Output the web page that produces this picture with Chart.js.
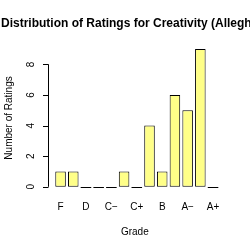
<!DOCTYPE html>
<html>
<head>
<meta charset="utf-8">
<script src="https://cdn.jsdelivr.net/npm/chart.js@4"></script>
<style>
  html, body { margin: 0; padding: 0; background: #fff; }
  #wrap { width: 250px; height: 250px; }
</style>
</head>
<body>
<div id="wrap"><canvas id="myChart" width="250" height="250"></canvas></div>
<script>
const grades = ['F', 'D\u2212', 'D', 'D+', 'C\u2212', 'C', 'C+', 'B\u2212', 'B', 'B+', 'A\u2212', 'A', 'A+'];
const counts = [1, 1, 0, 0, 0, 1, 0, 4, 1, 6, 5, 9, 0];
const yTicks = [0, 2, 4, 6, 8];
const titleText = 'Distribution of Ratings for Creativity (Allegheny College)';
const xTitle = 'Grade';
const yTitle = 'Number of Ratings';

// axes, labels and title drawn R-style on top of the chart
const rAxes = {
  id: 'rAxes',
  afterDatasetsDraw(chart) {
    const ctx = chart.ctx;
    const y = chart.scales.y;
    const area = chart.chartArea;
    const axX = 48.5;
    ctx.save();
    ctx.strokeStyle = '#000';
    ctx.lineWidth = 1;
    ctx.fillStyle = '#000';

    // zero-height bars show as a line on the baseline
    const meta = chart.getDatasetMeta(0);
    meta.data.forEach((bar, i) => {
      if (counts[i] === 0) {
        const half = bar.width / 2;
        ctx.beginPath();
        ctx.moveTo(bar.x - half, Math.round(y.getPixelForValue(0)) + 0.5);
        ctx.lineTo(bar.x + half, Math.round(y.getPixelForValue(0)) + 0.5);
        ctx.stroke();
      }
    });

    // y axis
    ctx.beginPath();
    ctx.moveTo(axX, y.getPixelForValue(yTicks[0]));
    ctx.lineTo(axX, y.getPixelForValue(yTicks[yTicks.length - 1]));
    yTicks.forEach(t => {
      const py = Math.round(y.getPixelForValue(t)) + 0.5;
      ctx.moveTo(43, py);
      ctx.lineTo(axX, py);
    });
    ctx.stroke();

    ctx.font = '10px "Liberation Sans", Arial, sans-serif';
    ctx.textAlign = 'center';
    ctx.textBaseline = 'middle';
    yTicks.forEach(t => {
      ctx.save();
      ctx.translate(31, y.getPixelForValue(t));
      ctx.rotate(-Math.PI / 2);
      ctx.fillText(String(t), 0, 0);
      ctx.restore();
    });

    // x labels, every other grade
    const x = chart.scales.x;
    grades.forEach((g, i) => {
      if (i % 2 === 0) ctx.fillText(g, x.getPixelForValue(i), 207);
    });

    ctx.fillText(xTitle, (area.left + area.right) / 2 - 2, 232);

    ctx.save();
    ctx.translate(9, (area.top + area.bottom) / 2);
    ctx.rotate(-Math.PI / 2);
    ctx.fillText(yTitle, 0, 0);
    ctx.restore();

    ctx.font = 'bold 12px "Liberation Sans", Arial, sans-serif';
    ctx.textAlign = 'left';
    ctx.fillText(titleText, 1, 24);
    ctx.restore();
  }
};

var ctx = document.getElementById('myChart').getContext('2d');

var myChart = new Chart(ctx, {
  type: 'bar',
  data: {
    labels: grades,
    datasets: [{
      label: 'Ratings',
      data: counts,
      backgroundColor: '#ffff88',
      borderColor: '#000',
      borderWidth: 1,
      borderSkipped: false,
      barPercentage: 0.83,
      categoryPercentage: 1
    }]
  },
  options: {
    responsive: false,
    animation: false,
    devicePixelRatio: 1,
    layout: {
      padding: { left: 54.2, right: 30.6, top: 43.6, bottom: 57.7 }
    },
    plugins: {
      legend: { display: false },
      tooltip: { enabled: false }
    },
    scales: {
      x: { display: false, offset: true },
      y: { display: false, min: -0.36, max: 9.36 }
    }
  },
  plugins: [rAxes]
});
</script>
</body>
</html>
